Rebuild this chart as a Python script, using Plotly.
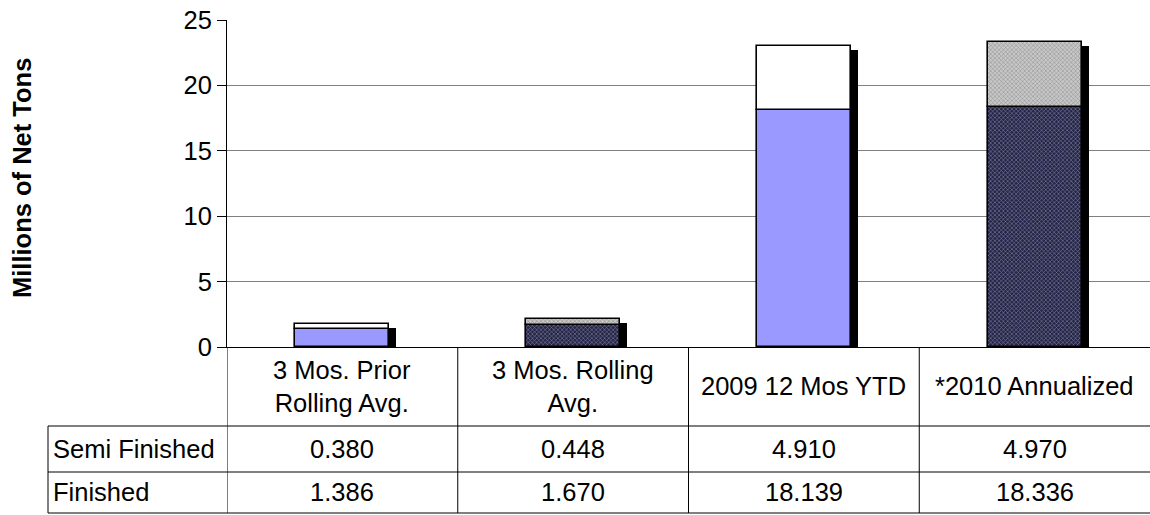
import plotly.graph_objects as go

categories = ["3 Mos. Prior<br>Rolling Avg.", "3 Mos. Rolling<br>Avg.", "2009 12 Mos YTD", "*2010 Annualized"]
finished = [1.386, 1.670, 18.139, 18.336]
semi_finished = [0.380, 0.448, 4.910, 4.970]
row_labels = ["Semi Finished", "Finished"]
y_ticks = [0, 5, 10, 15, 20, 25]

FONT = "Liberation Sans, Arial, sans-serif"
FS = 25.5

W, H = 1150, 515
L, R, T, B = 227, 0, 20, 168
PH = H - T - B  # plot height in px
PW = W - L - R

def py(px_y):
    """convert pixel y (from top) to paper y"""
    return (H - B - px_y) / PH

def px_x(px):
    return (px - L) / PW

n = len(categories)
xs = list(range(n))
bw = 0.407
sh_dx = 7 / (PW / n)
sh_dy = 4 / (PH / 25)
totals = [f + s for f, s in zip(finished, semi_finished)]

fin_colors = ["#9999FF", "#24244A", "#9999FF", "#24244A"]
fin_shape = ["", "x", "", "x"]
fin_fg = ["#9999FF", "#34345c", "#9999FF", "#34345c"]
semi_colors = ["#FFFFFF", "#C8C8C8", "#FFFFFF", "#C8C8C8"]
semi_shape = ["", "x", "", "x"]
semi_fg = ["#FFFFFF", "#a8a8a8", "#FFFFFF", "#a8a8a8"]

fig = go.Figure()
# shadows
fig.add_trace(go.Bar(
    x=xs, y=[t - sh_dy for t in totals], width=bw, offset=-bw / 2 + sh_dx,
    marker=dict(color="#000000", line=dict(width=0)), hoverinfo="skip", showlegend=False))
fig.add_trace(go.Bar(
    x=xs, y=finished, width=bw, offset=-bw / 2, name="Finished",
    marker=dict(color=fin_colors, line=dict(color="#000000", width=1.6),
                pattern=dict(shape=fin_shape, fgcolor=fin_fg, bgcolor=fin_colors, size=3, solidity=0.3)),
    showlegend=False))
fig.add_trace(go.Bar(
    x=xs, y=semi_finished, base=finished, width=bw, offset=-bw / 2, name="Semi Finished",
    marker=dict(color=semi_colors, line=dict(color="#000000", width=1.6),
                pattern=dict(shape=semi_shape, fgcolor=semi_fg, bgcolor=semi_colors, size=3, solidity=0.3)),
    showlegend=False))

shapes = []
line = dict(color="#000000", width=1)
# header row vertical lines (category boundaries)
for b in [-0.5, 0.5, 1.5, 2.5]:
    shapes.append(dict(type="line", xref="x", yref="paper", x0=b, x1=b, y0=0, y1=py(513), line=line))
# left column border
shapes.append(dict(type="line", xref="paper", yref="paper", x0=px_x(48), x1=px_x(48), y0=py(426), y1=py(513), line=line))
# horizontal row lines
for yy in [426, 472, 513]:
    shapes.append(dict(type="line", xref="paper", yref="paper", x0=px_x(48), x1=1, y0=py(yy), y1=py(yy), line=line))

annotations = []
for i, c in enumerate(categories):
    annotations.append(dict(x=i, xref="x", y=py(386.5), yref="paper", text=c, showarrow=False,
                            font=dict(family=FONT, size=FS, color="#000"), align="center",
                            xanchor="center", yanchor="middle"))
rows = [semi_finished, finished]
row_centers = [449, 492.5]
for r, (lab, vals, yc) in enumerate(zip(row_labels, rows, row_centers)):
    annotations.append(dict(x=px_x(51), xref="paper", y=py(yc), yref="paper", text=lab, showarrow=False,
                            font=dict(family=FONT, size=FS, color="#000"), xanchor="left", yanchor="middle"))
    for i, v in enumerate(vals):
        annotations.append(dict(x=i, xref="x", y=py(yc), yref="paper", text=f"{v:.3f}", showarrow=False,
                                font=dict(family=FONT, size=FS, color="#000"), xanchor="center", yanchor="middle"))
annotations.append(dict(x=px_x(22), xref="paper", y=py(178), yref="paper", text="<b>Millions of Net Tons</b>",
                        textangle=-90, showarrow=False, font=dict(family=FONT, size=FS, color="#000"),
                        xanchor="center", yanchor="middle"))

fig.update_layout(
    width=W, height=H, margin=dict(l=L, r=R, t=T, b=B, pad=0),
    barmode="overlay", bargap=0,
    plot_bgcolor="#FFFFFF", paper_bgcolor="#FFFFFF",
    font=dict(family=FONT, size=FS, color="#000"),
    xaxis=dict(range=[-0.5, n - 0.5], showticklabels=False, showgrid=False, zeroline=False,
               showline=True, linecolor="#000000", linewidth=1, ticks=""),
    yaxis=dict(range=[0, 25], tickvals=y_ticks, showgrid=True, gridcolor="#808080", gridwidth=1,
               zeroline=False, showline=True, linecolor="#000000", linewidth=1,
               ticks="outside", ticklen=9, tickcolor="#000000",
               tickfont=dict(family=FONT, size=FS, color="#000")),
    shapes=shapes, annotations=annotations, showlegend=False,
)

fig.write_html("out.html", config={"displayModeBar": False})

# remove the default page margin so the chart sits at the window's top-left corner
with open("out.html", "r", encoding="utf-8") as f:
    html = f.read()
html = html.replace("<body>", '<body style="margin:0;padding:0;overflow:hidden">', 1)
with open("out.html", "w", encoding="utf-8") as f:
    f.write(html)
